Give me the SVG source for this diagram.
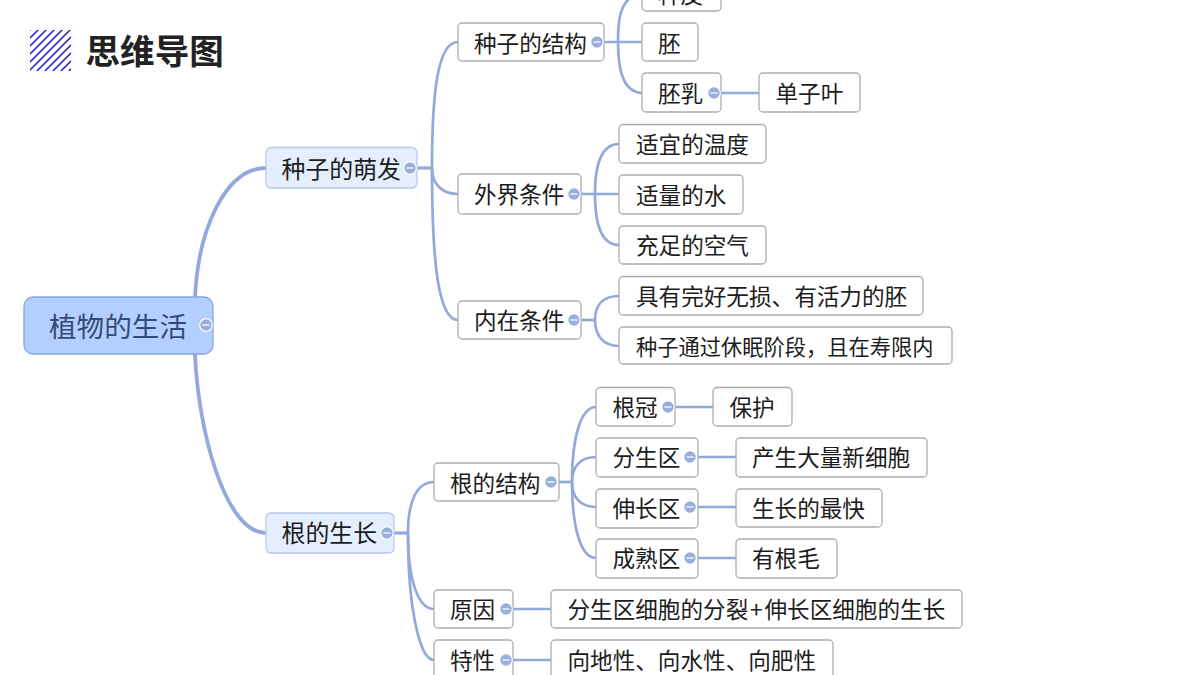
<svg xmlns="http://www.w3.org/2000/svg" width="1200" height="675" viewBox="0 0 1200 675">
<defs>
<pattern id="hatch" width="8" height="8" patternUnits="userSpaceOnUse" patternTransform="translate(30 30)">
<path d="M-2 2L2 -2M-2 10L10 -2M6 10L10 6" stroke="#3a35c8" stroke-width="1.6" fill="none"/>
</pattern>
<g id="minus"><circle r="6.3" fill="#98aede" stroke="#fff" stroke-width="1.2"/><rect x="-3.6" y="-0.8" width="7.2" height="1.6" fill="#e8edf8"/></g>
</defs>
<style>
text{font-family:"Noto Sans CJK SC","Noto Sans",sans-serif;font-size:22.6px;fill:#1c1c1c;text-anchor:start}
.n rect{fill:#fff;stroke:#adadad;stroke-width:1.3}
.m rect{fill:#e4eeff;stroke:#b5c8ec;stroke-width:1.3}
.m text{font-size:23.9px}
.c path{fill:none;stroke:#92a9dc;stroke-width:2.7}
.c .t{stroke-width:3.8}
.c .s{stroke-width:3.2}
</style>
<rect width="1200" height="675" fill="#fff"/>
<g id="logo"><rect x="30" y="30" width="41" height="41" fill="url(#hatch)"/>
<text x="85.500" y="64" style="font-size:34.6px;font-weight:700;fill:#222">思维导图</text></g>
<g id="connectors" class="c">
<path class="t" d="M195 298C198 230 225 168 266 168"/>
<path class="t" d="M195 354C198 430 225 533 266 533"/>
<path class="s" d="M417 168H432"/>
<path d="M432 168C432 90 438 42 458 42"/>
<path d="M432 168C432 182 440 194 458 194"/>
<path d="M432 168C432 260 438 320 458 320"/>
<path d="M604 42H642"/>
<path d="M618 42C618 20 620 6 631 -3"/>
<path d="M618 42C618 75 625 92 642 93"/>
<path d="M721 93H759"/>
<path d="M581 194H619"/>
<path d="M595 194C595 160 603 144 619 144"/>
<path d="M595 194C595 228 603 245 619 245"/>
<path d="M581 320H595"/>
<path d="M595 320C595 305 603 296 619 296"/>
<path d="M595 320C595 335 603 346 619 346"/>
<path class="s" d="M394 533H408"/>
<path d="M408 533C408 505 415 482 434 482"/>
<path d="M408 533C408 580 418 609 434 609"/>
<path d="M408 533C408 610 420 660 434 660"/>
<path d="M559 482H572"/>
<path d="M572 482C572 440 580 407 596 407"/>
<path d="M572 482C572 467 580 457 596 457"/>
<path d="M572 482C572 497 580 507 596 507"/>
<path d="M572 482C572 525 580 558 596 558"/>
<path d="M675 407H713"/><path d="M698 457H736"/><path d="M698 507H736"/><path d="M698 558H736"/>
<path d="M513 609H551"/><path d="M513 660H551"/>
</g>
<g id="root"><rect x="24" y="297" width="189" height="57" rx="9" fill="#b3cfff" stroke="#86a6e2" stroke-width="1.3"/>
<text x="49" y="337" style="font-size:27.6px;fill:#364a78">植物的生活</text><use href="#minus" x="206" y="325"/></g>
<g id="n1" class="m"><rect x="266" y="147.500" width="151" height="40.500" rx="5"/><text x="281.500" y="178">种子的萌发</text><use href="#minus" x="410" y="168"/></g>
<g id="n2" class="m"><rect x="266" y="513" width="128" height="40" rx="5"/><text x="281.500" y="542">根的生长</text><use href="#minus" x="387" y="533"/></g>
<g class="n">
<g id="a1"><rect x="458" y="23" width="146" height="38" rx="4"/><text x="474" y="52">种子的结构</text><use href="#minus" x="597" y="42"/></g>
<g id="a2"><rect x="642" y="-15" width="79" height="26" rx="4"/><text x="658" y="3">种皮</text></g>
<g id="a3"><rect x="642" y="23" width="56" height="38" rx="4"/><text x="658" y="52">胚</text></g>
<g id="a4"><rect x="642" y="73" width="79" height="39" rx="4"/><text x="658" y="101.500">胚乳</text><use href="#minus" x="714" y="93"/></g>
<g id="a5"><rect x="759" y="73" width="101" height="39" rx="4"/><text x="775.500" y="101.500">单子叶</text></g>
<g id="b1"><rect x="458" y="174" width="123" height="40" rx="4"/><text x="474" y="203">外界条件</text><use href="#minus" x="574" y="194"/></g>
<g id="b2"><rect x="619" y="124.500" width="147" height="38.500" rx="4"/><text x="636" y="153">适宜的温度</text></g>
<g id="b3"><rect x="619" y="175" width="124" height="39" rx="4"/><text x="636" y="204">适量的水</text></g>
<g id="b4"><rect x="619" y="226" width="147" height="38" rx="4"/><text x="636" y="254">充足的空气</text></g>
<g id="c1"><rect x="458" y="301" width="123" height="38" rx="4"/><text x="474" y="329">内在条件</text><use href="#minus" x="574" y="320"/></g>
<g id="c2"><rect x="619" y="276.500" width="304" height="38.500" rx="4"/><text x="636" y="305">具有完好无损、有活力的胚</text></g>
<g id="c3"><rect x="619" y="327" width="333" height="37" rx="4"/><text x="636" y="354.500" style="font-size:21.25px">种子通过休眠阶段，且在寿限内</text></g>
<g id="d1"><rect x="434" y="463" width="125" height="38" rx="4"/><text x="450" y="492">根的结构</text><use href="#minus" x="551" y="482"/></g>
<g id="d2"><rect x="596" y="387.500" width="79" height="38.500" rx="4"/><text x="612.500" y="415.500">根冠</text><use href="#minus" x="668" y="407"/></g>
<g id="d3"><rect x="713" y="387.500" width="79" height="38.500" rx="4"/><text x="729.500" y="415.500">保护</text></g>
<g id="d4"><rect x="596" y="438" width="102" height="39" rx="4"/><text x="612.500" y="466">分生区</text><use href="#minus" x="690" y="457"/></g>
<g id="d5"><rect x="736" y="438" width="191" height="39" rx="4"/><text x="752" y="466">产生大量新细胞</text></g>
<g id="d6"><rect x="596" y="489" width="102" height="39" rx="4"/><text x="612.500" y="517">伸长区</text><use href="#minus" x="690" y="507"/></g>
<g id="d7"><rect x="736" y="489" width="146" height="38" rx="4"/><text x="752" y="517">生长的最快</text></g>
<g id="d8"><rect x="596" y="539" width="102" height="39" rx="4"/><text x="612.500" y="567">成熟区</text><use href="#minus" x="690" y="558"/></g>
<g id="d9"><rect x="736" y="539" width="101" height="39" rx="4"/><text x="752" y="567">有根毛</text></g>
<g id="e1"><rect x="434" y="590" width="79" height="38" rx="4"/><text x="450" y="618">原因</text><use href="#minus" x="506" y="609"/></g>
<g id="e2"><rect x="551" y="590" width="411" height="38" rx="4"/><text x="567.500" y="618">分生区细胞的分裂<tspan x="750">+</tspan><tspan x="764.500">伸长区细胞的生长</tspan></text></g>
<g id="f1"><rect x="434" y="640" width="79" height="40" rx="4"/><text x="450" y="669">特性</text><use href="#minus" x="506" y="660"/></g>
<g id="f2"><rect x="551" y="640" width="282" height="40" rx="4"/><text x="567.500" y="669">向地性、向水性、向肥性</text></g>
</g>
</svg>
